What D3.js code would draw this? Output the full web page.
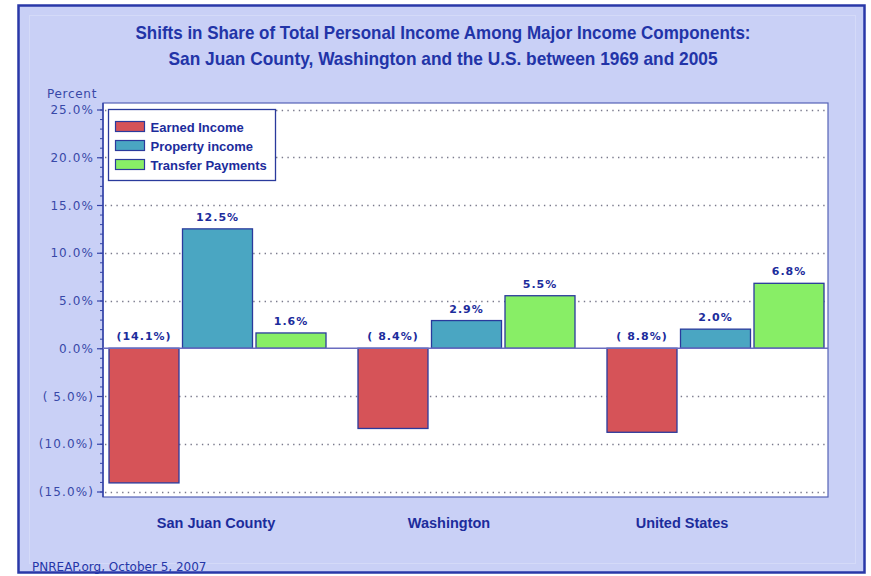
<!DOCTYPE html>
<html>
<head>
<meta charset="utf-8">
<script src="https://cdn.jsdelivr.net/npm/d3@7"></script>
<style>
  html, body { margin: 0; padding: 0; background: #ffffff; }
  svg { display: block; }
</style>
</head>
<body>
<svg id="chart" width="871" height="576"></svg>
<script>
// Regions compared and the three income components (percentage-point shift, 1969 to 2005)
const categories = ["San Juan County", "Washington", "United States"];
const seriesNames = ["Earned Income", "Property income", "Transfer Payments"];
const earnedIncome = [-14.1, -8.4, -8.8];
const propertyIncome = [12.5, 2.9, 2.0];
const transferPayments = [1.6, 5.5, 6.8];
const yTicks = [25, 20, 15, 10, 5, 0, -5, -10, -15];

const titleLines = [
  "Shifts in Share of Total Personal Income Among Major Income Components:",
  "San Juan County, Washington and the U.S. between 1969 and 2005"
];
const titleWidths = [615, 549];
const sourceNote = "PNREAP.org, October 5, 2007";

const seriesValues = [earnedIncome, propertyIncome, transferPayments];
const colors = ["#d65358", "#4aa6c2", "#88ee66"];
const ink = "#1c2c9c";

const rows = categories.map((c, i) => ({
  category: c,
  values: seriesNames.map((s, j) => ({ series: s, value: seriesValues[j][i], idx: j }))
}));

const svg = d3.select("#chart");

// Outer frame
svg.append("rect")
  .attr("x", 18.5).attr("y", 5.5).attr("width", 846).attr("height", 567)
  .attr("fill", "#c9d0f6").attr("stroke", "#2a38a8").attr("stroke-width", 2.5);
svg.append("rect")
  .attr("x", 29.5).attr("y", 15.5).attr("width", 826).attr("height", 548)
  .attr("fill", "none").attr("stroke", "#d4daf8").attr("stroke-width", 1);

// Title (condensed bold)
svg.selectAll("text.title").data(titleLines).join("text")
  .attr("class", "title")
  .attr("x", 443).attr("y", (d, i) => 39 + i * 26)
  .attr("text-anchor", "middle")
  .attr("font-family", "'Liberation Sans Narrow', 'Liberation Sans', sans-serif")
  .attr("font-weight", "bold").attr("font-size", 19)
  .attr("textLength", (d, i) => titleWidths[i])
  .attr("lengthAdjust", "spacingAndGlyphs")
  .attr("fill", "#2234a8")
  .text(d => d);

// Plot area
const plot = { left: 103, right: 828, top: 103, bottom: 497 };
svg.append("rect")
  .attr("x", plot.left).attr("y", plot.top)
  .attr("width", plot.right - plot.left).attr("height", plot.bottom - plot.top)
  .attr("fill", "#ffffff").attr("stroke", "#5563b6").attr("stroke-width", 1.2);

const y = d3.scaleLinear().domain([-15, 25]).range([491.5, 109.5]);

const x0 = d3.scaleBand().domain(categories).range([109, 824])
  .paddingInner(0.1285).paddingOuter(0);
const x1 = d3.scaleBand().domain(seriesNames).range([0, x0.bandwidth()])
  .paddingInner(0.0476).paddingOuter(0);
const labelX = d3.scalePoint().domain(categories).range([216, 682]);

// Dotted gridlines
svg.append("g").selectAll("line").data(yTicks.filter(t => t !== 0)).join("line")
  .attr("x1", plot.left + 2).attr("x2", plot.right - 2)
  .attr("y1", d => Math.round(y(d)) + 0.5).attr("y2", d => Math.round(y(d)) + 0.5)
  .attr("stroke", "#7a7a8c").attr("stroke-width", 1.3)
  .attr("stroke-dasharray", "1.4,4.3");

// Y axis with minor ticks every 1%
const fmtPct = v => {
  if (v < 0) {
    const s = Math.abs(v).toFixed(1);
    return "(" + (s.length < 4 ? " " : "") + s + "%)";
  }
  return v.toFixed(1) + "%";
};
const axisG = svg.append("g").attr("transform", `translate(${plot.left},0)`);
axisG.call(d3.axisLeft(y).tickValues(d3.range(-15, 26, 1)).tickSize(3).tickFormat(""))
  .call(g => g.select(".domain").remove())
  .call(g => g.selectAll("line").attr("stroke", "#3444a8"));
axisG.append("g").call(d3.axisLeft(y).tickValues(yTicks).tickSize(6).tickPadding(3).tickFormat(fmtPct))
  .call(g => g.select(".domain").remove())
  .call(g => g.selectAll("line").attr("stroke", "#3444a8").attr("stroke-width", 1.2))
  .call(g => g.selectAll("text")
    .attr("fill", "#3848a8").attr("font-size", 12)
    .attr("font-family", "'DejaVu Sans', Verdana, sans-serif")
    .attr("letter-spacing", 1.1)
    .attr("dy", "0.35em"));
svg.append("line")
  .attr("x1", plot.left).attr("x2", plot.left)
  .attr("y1", plot.top).attr("y2", plot.bottom)
  .attr("stroke", "#3444a8").attr("stroke-width", 1.5);

svg.append("text")
  .attr("x", 47).attr("y", 98)
  .attr("font-family", "'DejaVu Sans', Verdana, sans-serif")
  .attr("font-size", 12).attr("letter-spacing", 0.7)
  .attr("fill", "#3848a8")
  .text("Percent");

// Bars
const groups = svg.append("g").selectAll("g").data(rows).join("g")
  .attr("transform", d => `translate(${x0(d.category)},0)`);

groups.selectAll("rect").data(d => d.values).join("rect")
  .attr("x", d => x1(d.series))
  .attr("y", d => y(Math.max(0, d.value)))
  .attr("width", x1.bandwidth())
  .attr("height", d => Math.abs(y(d.value) - y(0)))
  .attr("fill", d => colors[d.idx])
  .attr("stroke", "#2a3a9c").attr("stroke-width", 1.3);

// Zero line
svg.append("line")
  .attr("x1", plot.left).attr("x2", plot.right)
  .attr("y1", y(0)).attr("y2", y(0))
  .attr("stroke", "#6a6cc0").attr("stroke-width", 1.6);

// Value labels
groups.selectAll("text").data(d => d.values).join("text")
  .attr("x", d => x1(d.series) + x1.bandwidth() / 2)
  .attr("y", d => y(Math.max(0, d.value)) - 8)
  .attr("text-anchor", "middle")
  .attr("font-family", "'DejaVu Sans', Verdana, sans-serif")
  .attr("font-weight", "bold").attr("font-size", 11)
  .attr("letter-spacing", 1)
  .attr("fill", ink)
  .text(d => fmtPct(d.value));

// Category labels
svg.append("g").selectAll("text").data(categories).join("text")
  .attr("x", d => labelX(d)).attr("y", 528)
  .attr("text-anchor", "middle")
  .attr("font-family", "'Liberation Sans', Arial, sans-serif")
  .attr("font-weight", "bold").attr("font-size", 14.5)
  .attr("fill", ink)
  .text(d => d);

// Legend
const legend = svg.append("g").attr("transform", "translate(108.5,109.5)");
legend.append("rect")
  .attr("width", 167).attr("height", 71)
  .attr("fill", "#ffffff").attr("stroke", "#2a3a9c").attr("stroke-width", 1.3);
const item = legend.selectAll("g").data(seriesNames).join("g")
  .attr("transform", (d, i) => `translate(7,${12 + i * 19})`);
item.append("rect")
  .attr("width", 29).attr("height", 10)
  .attr("fill", (d, i) => colors[i])
  .attr("stroke", "#2a3a9c").attr("stroke-width", 1.2);
item.append("text")
  .attr("x", 35).attr("y", 10)
  .attr("font-family", "'Liberation Sans', Arial, sans-serif")
  .attr("font-weight", "bold").attr("font-size", 13)
  .attr("fill", ink)
  .text(d => d);

// Source note
svg.append("text")
  .attr("x", 32).attr("y", 571)
  .attr("font-family", "'DejaVu Sans', Verdana, sans-serif")
  .attr("font-size", 12)
  .attr("fill", "#2536a8")
  .text(sourceNote);
</script>
</body>
</html>
